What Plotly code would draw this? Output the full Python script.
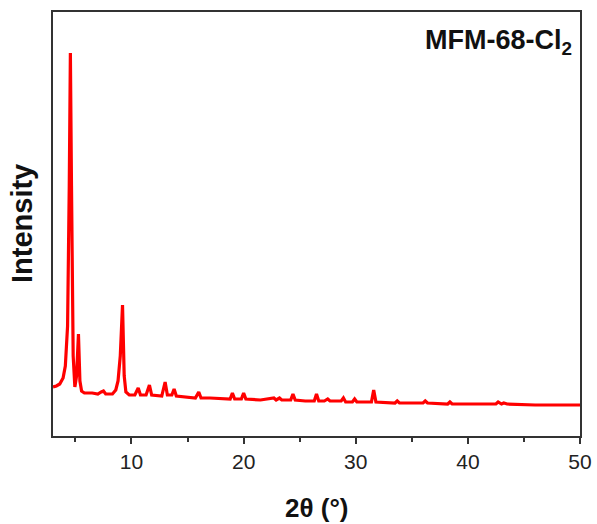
import plotly.graph_objects as go

# 2-theta (degrees) and intensity (arbitrary units)
two_theta = [3.0, 3.3, 3.6, 3.9, 4.1, 4.3, 4.45, 4.55, 4.65, 4.8, 4.95, 5.1, 5.27, 5.4, 5.55,
             5.8, 6.5, 7.0, 7.3, 7.5, 7.7, 8.3, 8.6, 8.8, 9.0, 9.2, 9.35, 9.5, 9.8,
             10.3, 10.6, 10.8, 11.3, 11.6, 11.8, 12.7, 13.0, 13.2, 13.6, 13.8, 14.0,
             15.0, 15.7, 16.0, 16.2, 17.0, 18.0, 18.8, 19.0, 19.2, 19.8, 20.0, 20.2,
             21.5, 22.7, 22.9, 23.2, 23.4, 24.2, 24.4, 24.6, 25.5, 26.3, 26.5, 26.7,
             27.2, 27.5, 27.7, 28.7, 28.9, 29.1, 29.7, 29.9, 30.1, 31.4, 31.6, 31.8,
             33.5, 33.7, 33.9, 36.0, 36.2, 36.4, 38.2, 38.4, 38.6, 42.5, 42.7, 43.0,
             43.2, 43.5, 46.0, 50.0]
intensity = [49, 50, 52, 58, 70, 110, 250, 383, 250, 80, 49, 60, 102, 55, 45,
             43, 43, 42, 44, 45, 42, 42, 46, 55, 80, 131, 60, 44, 41,
             41, 48, 41, 41, 51, 41, 40, 54, 41, 41, 47, 40,
             39, 38, 44, 38, 38, 37, 37, 43, 37, 37, 43, 37,
             36, 38, 36, 38, 36, 36, 42, 36, 35, 35, 42, 35,
             35, 37, 35, 35, 38, 34, 34, 37, 34, 34, 46, 34,
             33, 35, 33, 33, 35, 33, 32, 34, 32, 32, 34, 32,
             33, 32, 31, 31]

x_ticks = [10, 20, 30, 40, 50]
x_minor_ticks = [5, 15, 25, 35, 45]
sample_label = "MFM-68-Cl<sub>2</sub>"
x_title = "2θ (°)"
y_title = "Intensity"

fig = go.Figure()
fig.add_trace(go.Scatter(x=two_theta, y=intensity, mode="lines",
                         line=dict(color="#FF0000", width=3.2), showlegend=False))

axis_color = "#333333"
fig.update_layout(
    width=597, height=524,
    margin=dict(l=53, r=17, t=12, b=88),
    paper_bgcolor="white", plot_bgcolor="white",
    font=dict(family="Liberation Sans, Arial, sans-serif", color="#222222"),
    xaxis=dict(range=[3, 50], tickvals=x_ticks, ticks="outside", ticklen=6,
               tickwidth=1.5, tickcolor=axis_color, automargin=False,
               minor=dict(tickvals=x_minor_ticks, ticks="outside", ticklen=4,
                          tickwidth=1.5, tickcolor=axis_color),
               showline=True, linecolor=axis_color, linewidth=1.5, mirror=True,
               showgrid=False, zeroline=False,
               tickfont=dict(size=21, color="#222222")),
    yaxis=dict(range=[0, 424], showticklabels=False, ticks="", automargin=False,
               showline=True, linecolor=axis_color, linewidth=1.5, mirror=True,
               showgrid=False, zeroline=False),
)
fig.add_annotation(text="<b>" + x_title + "</b>", xref="paper", yref="paper",
                   x=0.5, y=-0.17, xanchor="center", yanchor="middle", showarrow=False,
                   font=dict(size=26, color="#111111"))
fig.add_annotation(text="<b>" + y_title + "</b>", xref="paper", yref="paper",
                   x=-0.0588, y=0.5, xanchor="center", yanchor="middle", showarrow=False,
                   textangle=-90, font=dict(size=29, color="#111111"))
fig.add_annotation(text="<b>" + sample_label + "</b>", xref="paper", yref="paper",
                   x=0.9886, y=0.93, xanchor="right", yanchor="middle", showarrow=False,
                   font=dict(size=27, color="#111111"))

fig.write_html("out.html")
